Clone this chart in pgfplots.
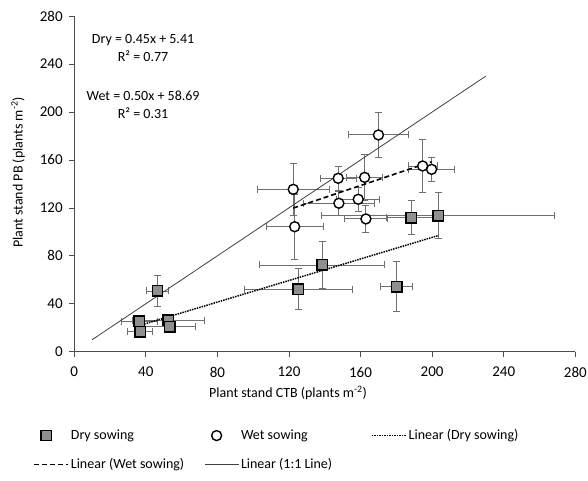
\documentclass[border=0pt]{standalone}
\usepackage{pgfplots}
\usepackage{pgfplotstable}
\usepackage{fontspec}
\setmainfont{Carlito}
\pgfplotsset{compat=1.18}

% x y ex ey
\pgfplotstableread{
x y ex ey
46.6 50.7 6 13
36.4 25.6 10 4
36.8 16.7 7 4
52.6 26.4 20 4
53.5 20.9 14 5
125.2 52.3 30 17
138.6 72.4 35 20
180.2 54.3 9 21
188.2 111.9 14 14
203.4 113.5 65 19
}\drytable

\pgfplotstableread{
x y ex ey
122.4 135.5 20 22
123.2 104.3 16 27
147.5 144.7 10 10
147.9 123.9 20 10
158.7 127.2 12 10
162.3 145.5 10 19
163.0 110.8 12 11
170.0 180.9 16.5 18.6
194.7 155.0 8 22
199.7 152.2 13 10
}\wettable

\definecolor{barfill}{HTML}{8F8F8F}
\definecolor{errgray}{HTML}{707070}
\definecolor{axgray}{HTML}{4D4D4D}

\newcommand{\chartfont}{\fontsize{14}{17}\selectfont}

\pgfplotsset{
    errs/.style={
        error bars/x dir=both, error bars/x explicit,
        error bars/y dir=both, error bars/y explicit,
        error bars/error bar style={errgray, line width=0.9pt},
        error bars/error mark options={rotate=90, errgray, mark size=3.5pt, line width=0.9pt}},
    markleg/.style={legend image code/.code={\draw[##1] plot coordinates {(12pt,0pt)};}},
    lineleg/.style={legend image code/.code={\draw[##1] (0pt,0pt) -- (34pt,0pt);}},
}

\begin{document}
\begin{tikzpicture}
\path[use as bounding box] (0,0) rectangle (588pt,480pt);
\begin{axis}[
    at={(74.2pt,128.3pt)}, anchor=south west,
    scale only axis, width=501.1pt, height=335.5pt,
    xmin=0, xmax=280, ymin=0, ymax=280,
    axis x line=bottom, axis y line=left,
    axis line style={-, axgray, line width=0.8pt},
    xtick={0,40,...,280}, ytick={0,40,...,280},
    tick align=outside, major tick length=5pt,
    tick style={axgray, line width=0.8pt},
    /pgf/number format/assume math mode=true,
    tick label style={font=\fontsize{15}{17}\selectfont},
    xticklabel style={yshift=-7pt},
    yticklabel style={xshift=-3pt},
    label style={font=\chartfont},
    xlabel={Plant stand CTB (plants m\textsuperscript{-2})},
    ylabel={Plant stand PB (plants m\textsuperscript{-2})},
    x label style={at={(axis description cs:0.4267,-0.123)}, anchor=center},
    y label style={at={(axis description cs:-0.112,0.534)}, anchor=center},
    legend columns=3,
    legend cell align=left,
    legend style={draw=none, fill=none, font=\chartfont,
        at={(axis description cs:-0.088,-0.22)}, anchor=north west,
        /tikz/row sep=13pt,
        /tikz/column 2/.style={column sep=18pt},
        /tikz/column 4/.style={column sep=37pt}},
]

\addplot[only marks, mark=square*, mark size=5.2pt,
    mark options={fill=barfill, draw=black, line width=1.4pt},
    markleg, errs]
    table[x=x, y=y, x error=ex, y error=ey] {\drytable};
\addlegendentry{Dry sowing}

\addplot[only marks, mark=*, mark size=5pt,
    mark options={fill=white, draw=black, line width=1.4pt},
    markleg, errs]
    table[x=x, y=y, x error=ex, y error=ey] {\wettable};
\addlegendentry{Wet sowing}

\addplot[black, densely dotted, line width=1.5pt, no marks, lineleg]
    coordinates {(36.4,21.79) (203.4,96.94)};
\addlegendentry{Linear (Dry sowing)}

\addplot[black, dash pattern=on 5pt off 3pt, line width=1.6pt, no marks, lineleg]
    coordinates {(122.4,119.89) (199.7,158.54)};
\addlegendentry{Linear (Wet sowing)}

\addplot[black!75, line width=0.8pt, no marks, lineleg]
    coordinates {(10,10) (230,230)};
\addlegendentry{Linear (1:1 Line)}

\node[font=\chartfont] at (axis description cs:0.1375,0.930) {Dry = 0.45x + 5.41};
\node[font=\chartfont] at (axis description cs:0.1375,0.880) {R² = 0.77};
\node[font=\chartfont] at (axis description cs:0.1375,0.7615) {Wet = 0.50x + 58.69};
\node[font=\chartfont] at (axis description cs:0.1375,0.7115) {R² = 0.31};
\end{axis}
\end{tikzpicture}
\end{document}
